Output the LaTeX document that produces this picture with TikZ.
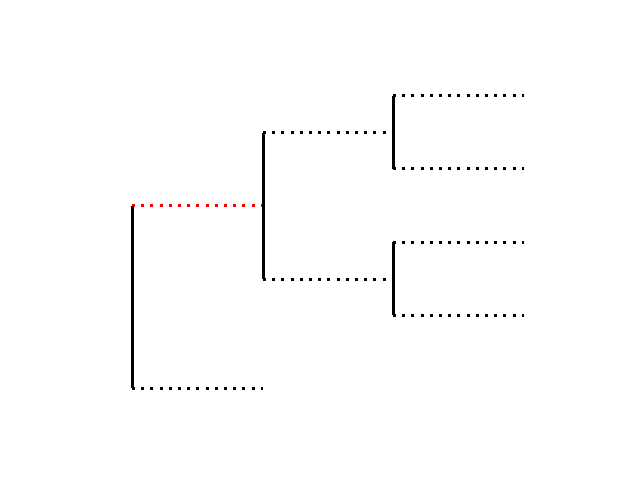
\documentclass[tikz,border=0pt]{standalone}
\usepackage{xcolor}
\usepackage{tikz}
\definecolor{cutred}{RGB}{255,0,0}

\begin{document}
\begin{tikzpicture}[
			x=1bp, y=-1bp,
			stem/.style={draw=black, line width=3bp},
			twig/.style={draw=black, line width=3bp, dash pattern=on 3bp off 6.2bp},
			redtwig/.style={twig, draw=cutred},
			]
			\useasboundingbox (0,0) rectangle (640,480);
			% tree joints
			\coordinate (rootup) at (132,206);
			\coordinate (rootmid) at (132,297);
			\coordinate (rootdown) at (132,388);
			\coordinate (leafl) at (263,388);
			\coordinate (innermid) at (263,206);
			\coordinate (innerup) at (263,133);
			\coordinate (innerdown) at (263,279);
			\coordinate (topmid) at (393,133);
			\coordinate (topup) at (393,96);
			\coordinate (topdown) at (393,169);
			\coordinate (botmid) at (393,279);
			\coordinate (botup) at (393,242);
			\coordinate (botdown) at (393,315);
			\coordinate (leafa) at (524,96);
			\coordinate (leafb) at (524,169);
			\coordinate (leafc) at (524,242);
			\coordinate (leafd) at (524,315);
			% horizontal dotted links
			\draw[redtwig] (rootup) -- (innermid);
			\draw[twig] (rootdown) -- (leafl);
			\draw[twig] (innerup) -- (topmid);
			\draw[twig] (innerdown) -- (botmid);
			\draw[twig] (topup) -- (leafa);
			\draw[twig] (topdown) -- (leafb);
			\draw[twig] (botup) -- (leafc);
			\draw[twig] (botdown) -- (leafd);
			% vertical stems
			\draw[stem] (rootup) -- (rootmid);
			\draw[stem] (rootmid) -- (rootdown);
			\draw[stem] (innerup) -- (innermid);
			\draw[stem] (innermid) -- (innerdown);
			\draw[stem] (topup) -- (topmid);
			\draw[stem] (topmid) -- (topdown);
			\draw[stem] (botup) -- (botmid);
			\draw[stem] (botmid) -- (botdown);
		\end{tikzpicture}
\end{document}
